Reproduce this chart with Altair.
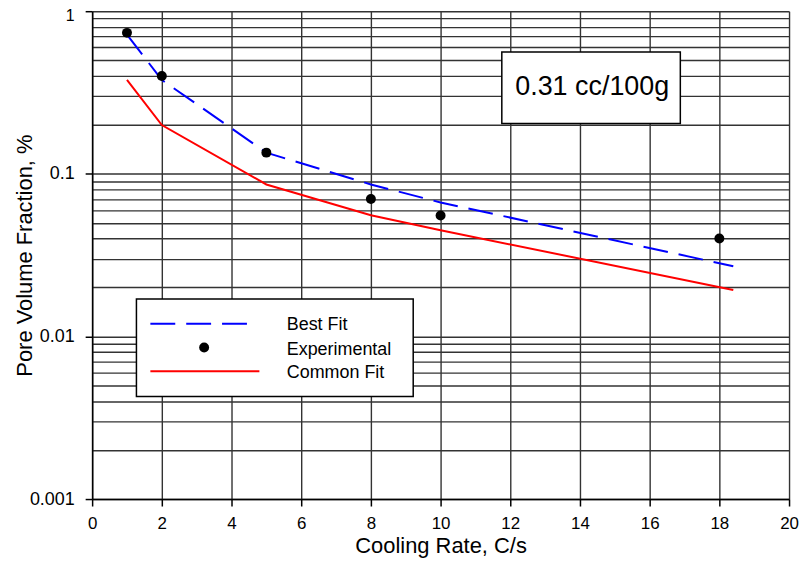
import altair as alt
import pandas as pd

# ---- data ----
cooling_exp = [1, 2, 5, 8, 10, 18]
pore_exp = [0.736, 0.40, 0.135, 0.070, 0.0555, 0.040]

cooling_best = [1, 2, 5, 8, 10, 18.4]
pore_best = [0.718, 0.378, 0.135, 0.086, 0.0667, 0.027]

cooling_common = [1, 2, 5, 8, 10, 18.4]
pore_common = [0.378, 0.1995, 0.086, 0.0556, 0.045, 0.0193]

x_ticks = [0, 2, 4, 6, 8, 10, 12, 14, 16, 18, 20]
y_major = [0.001, 0.01, 0.1, 1]
y_grid = [round(m * d, 4) for d in [0.001, 0.01, 0.1] for m in range(1, 10)] + [1]

legend_labels = ["Best Fit", "Experimental", "Common Fit"]
annotation = "0.31 cc/100g"

FONT = "Liberation Sans"

df_exp = pd.DataFrame({"x": cooling_exp, "y": pore_exp})
df_best = pd.DataFrame({"x": cooling_best, "y": pore_best})
df_common = pd.DataFrame({"x": cooling_common, "y": pore_common})
one = pd.DataFrame({"a": [0]})

major_test = " || ".join(f"datum.value == {v}" for v in y_major)
top_test = "datum.value == 1"

x_enc = alt.X(
    "x:Q",
    scale=alt.Scale(domain=[0, 20], nice=False, zero=False),
    axis=alt.Axis(
        values=x_ticks,
        title="Cooling Rate, C/s",
        grid=True,
        tickSize=7,
        labelPadding=10,
        titlePadding=3.5,
        labelFontSize=17,
        titleFontSize=22,
        labelFlush=False,
    ),
)
y_enc = alt.Y(
    "y:Q",
    scale=alt.Scale(type="log", domain=[0.001, 1], nice=False),
    axis=alt.Axis(
        values=y_grid,
        title="Pore Volume Fraction, %",
        grid=True,
        tickSize=7,
        labelPadding=11,
        labelFontSize={"condition": {"test": top_test, "value": 16}, "value": 18},
        labelOffset={"condition": {"test": top_test, "value": 4}, "value": 0},
        titleFontSize=22,
        titleX=-56,
        labelOverlap=False,
        labelFlush=False,
        labelExpr=f"({major_test}) ? (datum.value + '') : ''",
        tickOpacity={"condition": {"test": major_test, "value": 1}, "value": 0},
    ),
)

best = alt.Chart(df_best).mark_line(color="#0000ff", strokeWidth=2, strokeDash=[25, 11]).encode(x=x_enc, y=y_enc)
common = alt.Chart(df_common).mark_line(color="#ff0000", strokeWidth=2).encode(x=x_enc, y=y_enc)
points = alt.Chart(df_exp).mark_circle(color="black", size=100, opacity=1).encode(x=x_enc, y=y_enc)

# legend box
leg_box = alt.Chart(one).mark_rect(fill="white", stroke="black", strokeWidth=1.5).encode(
    x=alt.value(44.5), x2=alt.value(322.5), y=alt.value(289), y2=alt.value(387)
)
leg_best = alt.Chart(one).mark_rule(color="#0000ff", strokeWidth=2, strokeDash=[25, 11]).encode(
    x=alt.value(58.5), x2=alt.value(158), y=alt.value(314)
)
leg_dot = alt.Chart(one).mark_circle(color="black", size=100, opacity=1).encode(
    x=alt.value(112.5), y=alt.value(337.7)
)
leg_common = alt.Chart(one).mark_rule(color="#ff0000", strokeWidth=2).encode(
    x=alt.value(58.5), x2=alt.value(168), y=alt.value(361.7)
)
leg_texts = [
    alt.Chart(one).mark_text(align="left", baseline="alphabetic", fontSize=18, font=FONT, color="black").encode(
        x=alt.value(195.5), y=alt.value(yy), text=alt.value(lbl)
    )
    for lbl, yy in zip(legend_labels, [320, 345, 368.3])
]

# annotation box
ann_box = alt.Chart(one).mark_rect(fill="white", stroke="black", strokeWidth=1.5).encode(
    x=alt.value(411.5), x2=alt.value(590.8), y=alt.value(41), y2=alt.value(112.7)
)
ann_text = alt.Chart(one).mark_text(align="center", baseline="alphabetic", fontSize=27, font=FONT, color="black").encode(
    x=alt.value(502.3), y=alt.value(84), text=alt.value(annotation)
)

chart = alt.layer(
    best, common, points, leg_box, leg_best, leg_dot, leg_common, *leg_texts, ann_box, ann_text
).properties(
    width=700,
    height=490,
    autosize=alt.AutoSizeParams(type="none"),
    padding={"left": 84.5, "top": 2, "right": 10, "bottom": 60},
    background="white",
).configure_view(
    strokeWidth=0
).configure_axis(
    labelFont=FONT,
    titleFont=FONT,
    labelColor="black",
    titleColor="black",
    titleFontWeight="normal",
    domainColor="black",
    domainWidth=1.5,
    tickColor="black",
    tickWidth=1.5,
    gridColor="#333333",
    gridWidth=1.4,
    gridOpacity=1,
)

chart.save("out.html", embed_options={"renderer": "svg", "actions": False})
